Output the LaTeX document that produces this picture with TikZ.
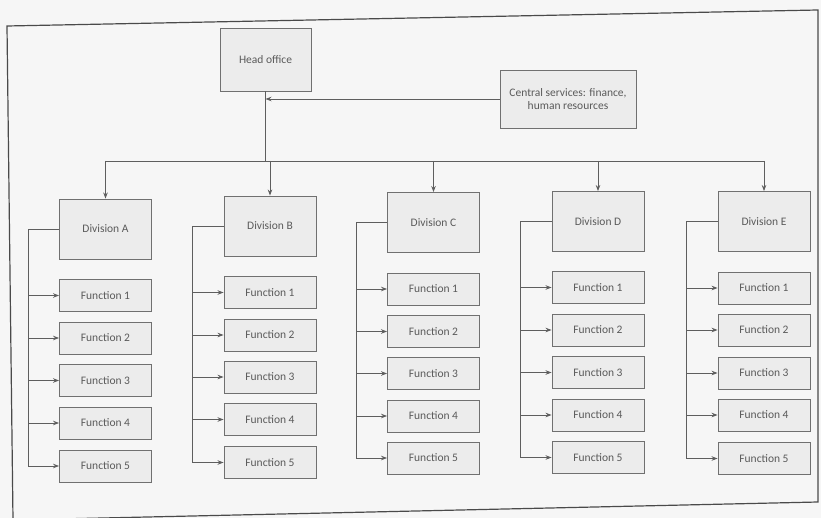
\documentclass[tikz,border=0pt]{standalone}
\usepackage{fontspec}
\setmainfont{Carlito}
\usetikzlibrary{arrows.meta}
\definecolor{bg}{HTML}{F6F6F6}
\definecolor{boxfill}{HTML}{ECECEC}
\definecolor{boxline}{HTML}{707070}
\definecolor{lin}{HTML}{5E5E5E}
\definecolor{txt}{HTML}{5A5A5A}
\definecolor{frame}{HTML}{4A4A4A}
\begin{document}
\begin{tikzpicture}[x=1pt,y=-1pt,
  box/.style={draw=boxline, fill=boxfill, line width=0.9pt, text=txt,
    font=\fontsize{11.5}{13.5}\selectfont, inner sep=1pt, minimum width=92pt, align=center},
  divbox/.style={box, minimum height=60pt},
  fnbox/.style={box, minimum height=32pt},
  conn/.style={draw=lin, line width=0.8pt},
  arr/.style={conn, -{Stealth[length=6pt,width=4.5pt]}}]
\useasboundingbox[fill=bg] (0,0) rectangle (821,518);
% outer frame (slightly tilted, as scanned)
\draw[frame, line width=1.2pt] (7,26) -- (818,10) -- (818,502) -- (13,520) -- cycle;

\node[box, minimum width=91pt, minimum height=63pt] (ho) at (265.5,59.5) {Head office};
\node[box, minimum width=136pt, minimum height=58pt] (cs) at (568,99) {Central services: finance,\\human resources};
\draw[arr] (cs.west) -- (ho.south |- cs.west);

\coordinate (bus) at (265.5,161);
\draw[conn] (ho.south) -- (bus);

\foreach \c/\cx/\dy/\fa/\fb/\fc/\fd/\fe in {
  A/105.5/229/295.5/338/380.5/423/466,
  B/270/226/292.5/335/377/419.5/462.5,
  C/433.5/222.5/289/331.5/373.5/416/458,
  D/598/221.5/287.5/330/372.5/415/457.5,
  E/764/221.5/288/330/373/415/458.5}{
  \node[divbox] (d\c) at (\cx,\dy) {Division \c};
  \foreach \i/\fy in {1/\fa,2/\fb,3/\fc,4/\fd,5/\fe}{
    \node[fnbox] (f\c\i) at (\cx,\fy) {Function \i};
  }
  \coordinate (v\c) at ([xshift=-31pt]d\c.west);
  \draw[arr] (d\c.west) -- (v\c) |- (f\c5.west);
  \foreach \i in {1,...,4}{
    \draw[arr] (v\c |- f\c\i.west) -- (f\c\i.west);
  }
  \draw[arr] (d\c.north |- bus) -- (d\c.north);
}
\draw[conn] (dA.north |- bus) -- (dE.north |- bus);
\end{tikzpicture}
\end{document}
